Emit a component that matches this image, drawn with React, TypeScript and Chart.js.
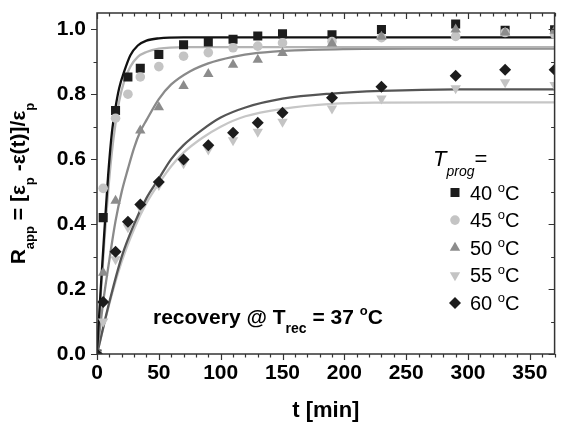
import React, { useEffect, useRef } from 'react';
import { Chart, registerables } from 'chart.js';

Chart.register(...registerables);

// ---- data ----
const times = [0, 5, 15, 25, 35, 50, 70, 90, 110, 130, 150, 190, 230, 290, 330, 370];
const r40 = [0, 0.42, 0.75, 0.853, 0.88, 0.922, 0.952, 0.961, 0.969, 0.979, 0.986, 0.983, 0.999, 1.016, 0.997, 0.998];
const r45 = [0, 0.51, 0.726, 0.8, 0.853, 0.885, 0.917, 0.928, 0.943, 0.948, 0.958, 0.962, 0.974, 0.978, 0.99, 0.985];
const r50 = [0, 0.25, 0.472, null, 0.688, 0.76, 0.825, 0.862, 0.891, 0.906, 0.927, 0.956, 0.977, 0.999, 0.99, 0.995];
const r55 = [0, 0.1, 0.292, 0.39, 0.45, 0.52, 0.587, 0.63, 0.658, 0.684, 0.715, 0.756, 0.787, 0.818, 0.837, 0.828];
const r60 = [0, 0.16, 0.315, 0.407, 0.46, 0.53, 0.599, 0.643, 0.681, 0.712, 0.743, 0.789, 0.823, 0.857, 0.875, 0.875];

const fitT40 = [0, 3, 6, 9, 12, 15, 18, 22, 27, 33, 40, 50, 70, 370];
const fit40 = [0, 0.2, 0.38, 0.55, 0.68, 0.76, 0.82, 0.87, 0.92, 0.95, 0.965, 0.972, 0.975, 0.975];
const fitT45 = [0, 3, 6, 9, 12, 15, 18, 22, 27, 33, 40, 50, 70, 370];
const fit45 = [0, 0.18, 0.35, 0.5, 0.62, 0.71, 0.78, 0.84, 0.885, 0.915, 0.93, 0.94, 0.945, 0.945];
const fitT50 = [0, 5, 10, 15, 20, 25, 30, 35, 40, 50, 60, 75, 90, 110, 130, 160, 200, 250, 370];
const fit50 = [0, 0.16, 0.29, 0.41, 0.5, 0.57, 0.635, 0.685, 0.72, 0.785, 0.83, 0.87, 0.895, 0.915, 0.927, 0.935, 0.939, 0.94, 0.94];
const fitT55 = [0, 10, 20, 30, 40, 50, 60, 70, 85, 100, 120, 150, 190, 230, 290, 370];
const fit55 = [0, 0.155, 0.285, 0.385, 0.465, 0.525, 0.578, 0.62, 0.665, 0.7, 0.732, 0.755, 0.77, 0.774, 0.775, 0.775];
const fitT60 = [0, 10, 20, 30, 40, 50, 60, 70, 85, 100, 120, 150, 190, 230, 290, 370];
const fit60 = [0, 0.16, 0.3, 0.4, 0.48, 0.54, 0.6, 0.643, 0.69, 0.728, 0.759, 0.786, 0.802, 0.81, 0.815, 0.815];

const xTickLabels = [0, 50, 100, 150, 200, 250, 300, 350];
const yTickLabels = [0, 0.2, 0.4, 0.6, 0.8, 1.0];
const legendLabels = ['40', '45', '50', '55', '60'];

// ---- styles ----
const FONT = '"Liberation Sans", Arial, Helvetica, sans-serif';
const AXIS = '#333333';
const C_SQ = '#1c1c1c';
const C_CI = '#c4c4c4';
const C_TR = '#8c8c8c';
const C_DT = '#c4c4c4';
const C_DI = '#1c1c1c';

const pts = (xs: number[], ys: (number | null)[]) =>
  xs.map((x, i) => ({ x, y: ys[i] })).filter((p) => p.y !== null);

type Part = { t: string; size: number; style?: string; weight?: string; dy?: number };

function partFont(p: Part) {
  return `${p.style || 'normal'} ${p.weight || 'normal'} ${p.size}px ${FONT}`;
}
function richWidth(ctx: CanvasRenderingContext2D, parts: Part[]) {
  let w = 0;
  for (const p of parts) {
    ctx.font = partFont(p);
    w += ctx.measureText(p.t).width;
  }
  return w;
}
function drawRich(ctx: CanvasRenderingContext2D, parts: Part[], x: number, y: number) {
  let cx = x;
  ctx.textBaseline = 'alphabetic';
  ctx.textAlign = 'left';
  for (const p of parts) {
    ctx.font = partFont(p);
    ctx.fillText(p.t, cx, y + (p.dy || 0));
    cx += ctx.measureText(p.t).width;
  }
}

function drawMarker(ctx: CanvasRenderingContext2D, kind: string, x: number, y: number, color: string) {
  ctx.fillStyle = color;
  ctx.beginPath();
  if (kind === 'sq') {
    ctx.rect(x - 4.5, y - 4.5, 9, 9);
  } else if (kind === 'ci') {
    ctx.arc(x, y, 4.8, 0, Math.PI * 2);
  } else if (kind === 'tr') {
    const r = 6;
    ctx.moveTo(x, y - r);
    ctx.lineTo(x + r * Math.sin((2 * Math.PI) / 3), y - r * Math.cos((2 * Math.PI) / 3));
    ctx.lineTo(x + r * Math.sin((4 * Math.PI) / 3), y - r * Math.cos((4 * Math.PI) / 3));
    ctx.closePath();
  } else if (kind === 'dt') {
    const r = 6;
    ctx.moveTo(x, y + r);
    ctx.lineTo(x + r * Math.sin((2 * Math.PI) / 3), y + r * Math.cos((2 * Math.PI) / 3));
    ctx.lineTo(x + r * Math.sin((4 * Math.PI) / 3), y + r * Math.cos((4 * Math.PI) / 3));
    ctx.closePath();
  } else {
    const r = 6;
    ctx.moveTo(x, y - r);
    ctx.lineTo(x + r, y);
    ctx.lineTo(x, y + r);
    ctx.lineTo(x - r, y);
    ctx.closePath();
  }
  ctx.fill();
}

const decorPlugin = {
  id: 'decor',
  afterDraw(chart: any) {
    const { ctx, chartArea: ca, scales } = chart;
    const xs = scales.x;
    const ys = scales.y;
    ctx.save();
    // frame
    ctx.strokeStyle = AXIS;
    ctx.lineWidth = 1.5;
    ctx.strokeRect(ca.left, ca.top, ca.right - ca.left, ca.bottom - ca.top);
    // ticks
    ctx.lineWidth = 1.2;
    ctx.beginPath();
    for (let v = 0; v <= 370; v += 10) {
      const px = Math.round(xs.getPixelForValue(v)) + 0.5;
      const len = v % 50 === 0 ? 6 : 3.5;
      ctx.moveTo(px, ca.bottom);
      ctx.lineTo(px, ca.bottom + len);
      ctx.moveTo(px, ca.top);
      ctx.lineTo(px, ca.top + len);
    }
    for (let k = 0; k <= 10; k++) {
      const v = k / 10;
      const py = Math.round(ys.getPixelForValue(v)) + 0.5;
      const len = k % 2 === 0 ? 6 : 3.5;
      ctx.moveTo(ca.left, py);
      ctx.lineTo(ca.left - len, py);
      ctx.moveTo(ca.right, py);
      ctx.lineTo(ca.right - len, py);
    }
    ctx.stroke();

    ctx.fillStyle = '#000';
    // x title
    ctx.font = `bold 22px ${FONT}`;
    ctx.textAlign = 'center';
    ctx.textBaseline = 'alphabetic';
    ctx.fillText('t [min]', (ca.left + ca.right) / 2, 417);

    // y title (rotated)
    const yParts: Part[] = [
      { t: 'R', size: 21, weight: 'bold' },
      { t: 'app', size: 13, weight: 'bold', dy: 9 },
      { t: ' = [', size: 21, weight: 'bold' },
      { t: 'ε', size: 21, weight: 'bold' },
      { t: 'p', size: 13, weight: 'bold', dy: 9 },
      { t: ' -ε(t)]/', size: 21, weight: 'bold' },
      { t: 'ε', size: 21, weight: 'bold' },
      { t: 'p', size: 13, weight: 'bold', dy: 9 },
    ];
    ctx.save();
    ctx.translate(25, (ca.top + ca.bottom) / 2);
    ctx.rotate(-Math.PI / 2);
    const yw = richWidth(ctx, yParts);
    drawRich(ctx, yParts, -yw / 2, 0);
    ctx.restore();

    // annotation
    drawRich(
      ctx,
      [
        { t: 'recovery @ T', size: 21, weight: 'bold' },
        { t: 'rec', size: 14, weight: 'bold', dy: 9 },
        { t: ' = 37 ', size: 21, weight: 'bold' },
        { t: 'o', size: 13, weight: 'bold', dy: -9 },
        { t: 'C', size: 21, weight: 'bold' },
      ],
      153,
      324
    );

    // legend header
    drawRich(
      ctx,
      [
        { t: 'T', size: 22, style: 'italic' },
        { t: 'prog', size: 14, style: 'italic', dy: 10 },
        { t: '=', size: 22 },
      ],
      433,
      166
    );
    const kinds = ['sq', 'ci', 'tr', 'dt', 'di'];
    const colors = [C_SQ, C_CI, C_TR, C_DT, C_DI];
    legendLabels.forEach((lab, i) => {
      const cy = 192.5 + i * 27.6;
      drawMarker(ctx, kinds[i], 455, cy, colors[i]);
      ctx.fillStyle = '#000';
      drawRich(
        ctx,
        [
          { t: lab + ' ', size: 20 },
          { t: 'o', size: 13, dy: -8 },
          { t: 'C', size: 20 },
        ],
        470,
        cy + 7
      );
    });
    ctx.restore();
  },
};

const zeroPad = (s: any) => {
  s.paddingTop = 0;
  s.paddingBottom = 0;
  s.paddingLeft = 0;
  s.paddingRight = 0;
};

function App() {
  const ref = useRef<HTMLCanvasElement | null>(null);
  useEffect(() => {
    if (!ref.current) return;
    const lineDs = (xs: number[], ys: number[], color: string) => ({
      data: pts(xs, ys),
      showLine: true,
      borderColor: color,
      borderWidth: 2.3,
      pointRadius: 0,
      fill: false,
      cubicInterpolationMode: 'monotone',
      order: 1,
    });
    const markDs = (ys: (number | null)[], style: string, color: string, radius: number, rotation = 0) => ({
      data: pts(times, ys),
      showLine: false,
      pointStyle: style,
      pointRadius: radius,
      pointRotation: rotation,
      pointBackgroundColor: color,
      pointBorderColor: color,
      pointBorderWidth: 0,
      order: 0,
    });
    const chart = new Chart(ref.current, {
      type: 'scatter',
      data: {
        datasets: [
          markDs(r60, 'rectRot', C_DI, 6),
          markDs(r50, 'triangle', C_TR, 6),
          markDs(r55, 'triangle', C_DT, 6, 180),
          markDs(r45, 'circle', C_CI, 4.8),
          markDs(r40, 'rect', C_SQ, 6.4),
          lineDs(fitT40, fit40, '#111111'),
          lineDs(fitT45, fit45, '#b4b4b4'),
          lineDs(fitT50, fit50, '#8a8a8a'),
          lineDs(fitT60, fit60, '#555555'),
          lineDs(fitT55, fit55, '#c6c6c6'),
        ] as any,
      },
      options: {
        responsive: false,
        animation: false,
        devicePixelRatio: 1,
        layout: { padding: { top: 13, right: 2, left: 0, bottom: 0 } },
        plugins: { legend: { display: false }, tooltip: { enabled: false }, title: { display: false } },
        scales: {
          x: {
            type: 'linear',
            min: 0,
            max: 370,
            afterBuildTicks: (s: any) => {
              s.ticks = xTickLabels.map((v) => ({ value: v }));
            },
            afterFit: (s: any) => {
              s.height = 71;
              zeroPad(s);
            },
            grid: { display: false, drawTicks: false },
            border: { display: false },
            ticks: {
              autoSkip: false,
              maxRotation: 0,
              padding: 7,
              color: '#000',
              font: { family: FONT, size: 21, weight: 'bold' },
              callback: (v: any) => String(v),
            },
          },
          y: {
            type: 'linear',
            min: 0,
            max: 1.05,
            afterBuildTicks: (s: any) => {
              s.ticks = yTickLabels.map((v) => ({ value: v }));
            },
            afterFit: (s: any) => {
              s.width = 97;
              zeroPad(s);
            },
            grid: { display: false, drawTicks: false },
            border: { display: false },
            ticks: {
              autoSkip: false,
              padding: 11,
              color: '#000',
              font: { family: FONT, size: 21, weight: 'bold' },
              callback: (v: any) => Number(v).toFixed(1),
            },
          },
        },
      } as any,
      plugins: [decorPlugin],
    });
    return () => chart.destroy();
  }, []);
  return (
    <div style={{ position: 'absolute', left: 0, top: 0, width: 561, height: 425, background: '#fff' }}>
      <canvas ref={ref} width={561} height={425} style={{ display: 'block' }} />
    </div>
  );
}

export default App;
